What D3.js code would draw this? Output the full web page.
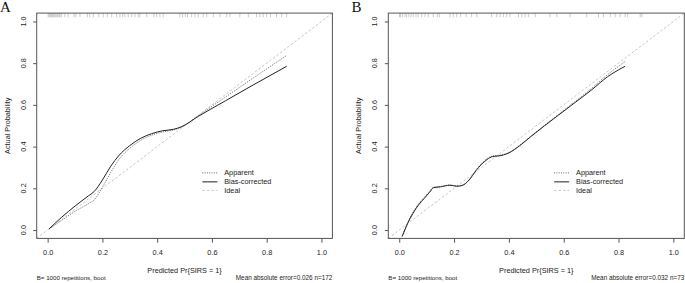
<!DOCTYPE html>
<html><head><meta charset="utf-8">
<script src="https://cdn.jsdelivr.net/npm/d3@7"></script>
<style>
html,body{margin:0;padding:0;background:#fff;}
svg{display:block;font-family:"Liberation Sans",Arial,sans-serif;}
</style></head>
<body><svg id="chart" width="685" height="283"></svg>
<script>
// ---------- data ----------
const ticks = [0, 0.2, 0.4, 0.6, 0.8, 1.0];
const tickLabels = ["0.0", "0.2", "0.4", "0.6", "0.8", "1.0"];
const legendLabels = ["Apparent", "Bias-corrected", "Ideal"];

// Panel A
const aPred     = [0.005, 0.05, 0.10, 0.15, 0.17, 0.20, 0.23, 0.26, 0.30, 0.34, 0.38, 0.42, 0.46, 0.49, 0.55, 0.65, 0.75, 0.873];
const aApparent = [0.005, 0.045, 0.09, 0.127, 0.145, 0.205, 0.275, 0.338, 0.392, 0.43, 0.455, 0.47, 0.48, 0.494, 0.548, 0.638, 0.728, 0.837];
const aBias     = [0.005, 0.06, 0.115, 0.165, 0.185, 0.24, 0.305, 0.357, 0.405, 0.44, 0.462, 0.476, 0.483, 0.496, 0.545, 0.62, 0.695, 0.785];
const aRug = [0.002,0.006,0.010,0.014,0.018,0.022,0.026,0.030,0.034,0.038,0.042,0.045,0.051,0.063,0.075,0.096,0.103,0.118,
  0.145,0.154,0.167,0.187,0.203,0.218,0.234,0.252,0.264,0.274,0.282,0.294,0.307,0.319,0.331,0.337,0.362,0.388,0.398,0.41,0.422,
  0.483,0.493,0.503,0.511,0.526,0.538,0.55,0.568,0.581,0.605,0.629,0.654,0.666,0.702,0.733,0.763,0.775,0.787,0.80,0.814,0.836,0.855,0.873];
const aFooterLeft = "B= 1000 repetitions, boot";
const aFooterRight = "Mean absolute error=0.026 n=172";

// Panel B
const bPred     = [0.011, 0.03, 0.05, 0.07, 0.09, 0.11, 0.125, 0.15, 0.185, 0.21, 0.23, 0.255, 0.28, 0.30, 0.32, 0.34, 0.36, 0.38, 0.40, 0.44, 0.48, 0.53, 0.58, 0.64, 0.70, 0.76, 0.80, 0.824];
const bApparent = [-0.03, 0.035, 0.085, 0.125, 0.155, 0.185, 0.206, 0.209, 0.216, 0.211, 0.215, 0.242, 0.288, 0.318, 0.342, 0.355, 0.358, 0.362, 0.372, 0.407, 0.45, 0.502, 0.553, 0.615, 0.677, 0.745, 0.785, 0.808];
const bBias     = [-0.03, 0.03, 0.08, 0.12, 0.15, 0.18, 0.203, 0.207, 0.215, 0.21, 0.214, 0.24, 0.285, 0.315, 0.338, 0.352, 0.355, 0.36, 0.37, 0.405, 0.448, 0.50, 0.55, 0.61, 0.67, 0.735, 0.768, 0.785];
const bRug = [0.001,0.005,0.012,0.021,0.027,0.035,0.043,0.051,0.061,0.069,0.082,0.094,0.106,0.124,0.139,0.146,
  0.185,0.197,0.21,0.224,0.244,0.264,0.283,0.337,0.356,0.368,0.38,0.392,0.404,0.435,0.447,0.459,0.471,0.496,
  0.55,0.575,0.623,0.684,0.727,0.745,0.77,0.788,0.806,0.824,0.833,0.879,0.885];
const bFooterLeft = "B= 1000 repetitions, boot";
const bFooterRight = "Mean absolute error=0.032 n=73";

const panels = [
  {letter:"A", left:36.7, right:332.4, pred:aPred, app:aApparent, bias:aBias, rug:aRug, fl:aFooterLeft, fr:aFooterRight, letterX:0, ylabX:7.5, ytickX:23.3},
  {letter:"B", left:388.3, right:684.3, pred:bPred, app:bApparent, bias:bBias, rug:bRug, fl:bFooterLeft, fr:bFooterRight, letterX:351.5, ylabX:358.5, ytickX:374.3}
];

const svg = d3.select("#chart");
const boxTop = 13.1, boxBottom = 238.4;
const FS = 7.3;
const txt = "#222";
const idealCol = "#c6c6c6", idealDash = "2.5,2";

panels.forEach((p, i) => {
  const x = d3.scaleLinear().domain([-0.04, 1.04]).range([p.left, p.right]);
  const y = d3.scaleLinear().domain([-0.04, 1.04]).range([boxBottom, boxTop]);
  const g = svg.append("g");
  const clipId = "clip" + i;
  svg.append("clipPath").attr("id", clipId).append("rect")
    .attr("x", p.left).attr("y", boxTop).attr("width", p.right - p.left).attr("height", boxBottom - boxTop);

  // ideal line
  g.append("line").attr("clip-path", `url(#${clipId})`)
    .attr("x1", x(-0.04)).attr("y1", y(-0.04)).attr("x2", x(1.04)).attr("y2", y(1.04))
    .attr("stroke", idealCol).attr("stroke-width", 1).attr("stroke-dasharray", idealDash);

  const line = d3.line().curve(d3.curveMonotoneX);
  const appPts = p.pred.map((v, k) => [x(v), y(p.app[k])]);
  const biasPts = p.pred.map((v, k) => [x(v), y(p.bias[k])]);
  g.append("path").attr("d", line(appPts)).attr("fill", "none")
    .attr("stroke", "#555").attr("stroke-width", 0.9).attr("stroke-dasharray", "1,1.3");
  g.append("path").attr("d", line(biasPts)).attr("fill", "none")
    .attr("stroke", "#222").attr("stroke-width", 1);

  // rug
  g.selectAll("line.rug").data(p.rug).enter().append("line").attr("class", "rug")
    .attr("x1", d => x(d)).attr("x2", d => x(d))
    .attr("y1", boxTop).attr("y2", boxTop + 4.2)
    .attr("stroke", "#a8a8a8").attr("stroke-width", 0.6);

  // box
  g.append("rect").attr("x", p.left).attr("y", boxTop).attr("width", p.right - p.left).attr("height", boxBottom - boxTop)
    .attr("fill", "none").attr("stroke", "#555").attr("stroke-width", 1);

  // x axis
  const xa = g.append("g").attr("transform", `translate(0,${boxBottom})`)
    .call(d3.axisBottom(x).tickValues(ticks).tickSize(4.3).tickFormat((d, k) => tickLabels[k]));
  xa.select(".domain").remove();
  xa.selectAll(".tick line").attr("stroke", "#555");
  xa.selectAll(".tick text").attr("font-size", FS).attr("fill", txt).attr("y", 0).attr("dy", 0)
    .attr("transform", `translate(0,${252.3 - boxBottom + 0.35 * FS})`).style("font-family", "Liberation Sans, Arial, sans-serif");

  // y axis
  const ya = g.append("g").attr("transform", `translate(${p.left},0)`)
    .call(d3.axisLeft(y).tickValues(ticks).tickSize(3.5).tickFormat(""));
  ya.select(".domain").remove();
  ya.selectAll(".tick line").attr("stroke", "#555");
  g.selectAll("text.ytl").data(ticks).enter().append("text").attr("class", "ytl")
    .attr("transform", (d) => `translate(${p.ytickX},${y(d)}) rotate(-90)`)
    .attr("dy", "0.35em").attr("text-anchor", "middle").attr("font-size", FS).attr("fill", txt)
    .text((d, k) => tickLabels[k]);

  // axis titles
  g.append("text").attr("transform", `translate(${p.ylabX},${(boxTop + boxBottom) / 2}) rotate(-90)`)
    .attr("dy", "0.35em").attr("text-anchor", "middle").attr("font-size", FS).attr("fill", txt)
    .text("Actual Probability");
  g.append("text").attr("x", (p.left + p.right) / 2).attr("y", 270).attr("dy", "0.35em")
    .attr("text-anchor", "middle").attr("font-size", FS).attr("fill", txt).text("Predicted Pr{SIRS = 1}");

  // footer
  g.append("text").attr("x", p.left).attr("y", 277.5).attr("dy", "0.35em")
    .attr("font-size", 6.2).attr("fill", txt).text(p.fl);
  g.append("text").attr("x", p.right).attr("y", 277.5).attr("dy", "0.35em").attr("text-anchor", "end")
    .attr("font-size", 6.4).attr("fill", txt).text(p.fr);

  // panel letter
  g.append("text").attr("x", p.letterX).attr("y", 12).attr("font-family", "Liberation Serif, Times New Roman, serif")
    .attr("font-size", 15).attr("fill", "#111").text(p.letter);

  // legend
  const legY = [0.274, 0.231, 0.19];
  const styles = [
    {stroke:"#555", dash:"1,1.3", w:0.9},
    {stroke:"#222", dash:null, w:1},
    {stroke:idealCol, dash:idealDash, w:1}
  ];
  legendLabels.forEach((lab, k) => {
    g.append("line").attr("x1", x(0.565)).attr("x2", x(0.62)).attr("y1", y(legY[k])).attr("y2", y(legY[k]))
      .attr("stroke", styles[k].stroke).attr("stroke-width", styles[k].w)
      .attr("stroke-dasharray", styles[k].dash);
    g.append("text").attr("x", x(0.645)).attr("y", y(legY[k])).attr("dy", "0.35em")
      .attr("font-size", FS).attr("fill", txt).text(lab);
  });
});
</script></body></html>
